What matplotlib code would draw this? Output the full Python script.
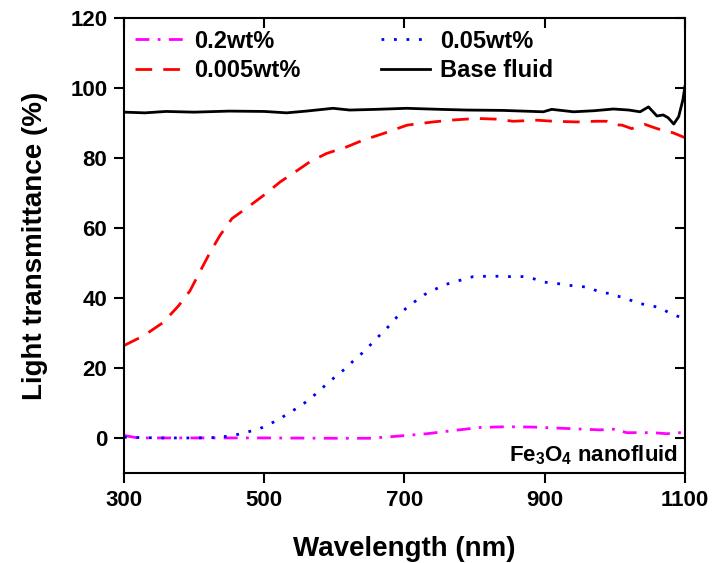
import matplotlib
matplotlib.use("Agg")
import matplotlib.pyplot as plt

plt.rcParams['font.family'] = ['Liberation Sans', 'DejaVu Sans']
plt.rcParams['font.weight'] = 'bold'
plt.rcParams['mathtext.fontset'] = 'custom'
plt.rcParams['mathtext.rm'] = 'Liberation Sans:bold'
plt.rcParams['mathtext.bf'] = 'Liberation Sans:bold'
plt.rcParams['mathtext.default'] = 'bf'

# 0.2 wt% Fe3O4
wl_02 = [300, 320, 400, 500, 600, 650, 684, 732, 765, 808, 846, 884, 931, 979, 998, 1017, 1055, 1074, 1093, 1100]
tr_02 = [0.7, 0.0, 0.0, 0.0, -0.1, -0.1, 0.4, 1.2, 2.0, 3.0, 3.2, 3.1, 2.7, 2.3, 2.5, 1.5, 1.5, 1.2, 1.5, 1.3]

# 0.05 wt%
wl_005 = [300, 350, 400, 427, 444, 462, 476, 492, 507, 522, 534, 550, 563, 576, 589, 602, 615, 627, 640,
          652, 664, 677, 689, 702, 715, 728, 742, 756, 782, 798, 817, 834, 851, 869, 884, 900, 916, 931,
          948, 962, 979, 996, 1000, 1017, 1031, 1048, 1064, 1079, 1093, 1100]
tr_005 = [0.2, 0.0, 0.0, 0.1, 0.4, 1.0, 1.7, 2.5, 3.9, 5.4, 7.0, 8.9, 10.8, 13.0, 15.4, 17.6, 19.7, 22.0, 24.3,
          26.7, 29.2, 31.8, 34.5, 37.0, 39.0, 40.9, 42.3, 43.7, 45.2, 46.1, 46.2, 46.2, 46.1, 46.1, 45.5, 44.5,
          44.2, 43.7, 43.3, 43.1, 41.6, 41.2, 40.7, 39.9, 38.5, 38.0, 37.2, 35.6, 34.5, 34.0]

# 0.005 wt%
wl_0005 = [300, 328, 356, 378, 394, 408, 423, 437, 454, 477, 499, 523, 544, 565, 589, 618, 641, 670, 704,
           741, 765, 803, 831, 855, 889, 912, 946, 974, 988, 998, 1010, 1024, 1043, 1060, 1083, 1100]
tr_0005 = [26.4, 29.2, 33.0, 37.8, 42.0, 47.4, 53.1, 57.9, 62.7, 66.0, 69.3, 73.2, 76.0, 78.9, 81.3, 83.2, 85.1,
           87.0, 89.4, 90.3, 90.8, 91.3, 91.1, 90.5, 90.8, 90.5, 90.3, 90.5, 90.5, 89.5, 89.4, 88.4, 89.6, 88.4,
           87.2, 85.8]

# Base fluid
wl_base = [300, 330, 360, 400, 450, 500, 532, 560, 598, 622, 660, 703, 750, 789, 840, 898, 910, 941, 970,
           998, 1020, 1036, 1048, 1060, 1069, 1076, 1084, 1091, 1097, 1100]
tr_base = [93.1, 92.9, 93.3, 93.1, 93.4, 93.3, 92.9, 93.4, 94.2, 93.7, 93.9, 94.2, 93.9, 93.7, 93.6, 93.2, 93.9,
           93.2, 93.5, 94.0, 93.7, 93.2, 94.6, 92.0, 92.3, 91.5, 89.7, 91.8, 96.6, 100.5]

fig = plt.figure(figsize=(7.15, 5.63), dpi=100)
ax = fig.add_axes([0.1734, 0.160, 0.7846, 0.808])

l1, = ax.plot(wl_02, tr_02, color='magenta', lw=2, dashes=(5, 3, 1, 3), label='0.2wt%')
l2, = ax.plot(wl_005, tr_005, color='blue', lw=2, dashes=(1, 3.5), label='0.05wt%')
l3, = ax.plot(wl_0005, tr_0005, color='red', lw=2, dashes=(6, 4), label='0.005wt%')
l4, = ax.plot(wl_base, tr_base, color='black', lw=2, label='Base fluid')

ax.set_xlim(300, 1100)
ax.set_ylim(-10, 120)
ax.set_xticks([300, 500, 700, 900, 1100])
ax.set_yticks([0, 20, 40, 60, 80, 100, 120])

for s in ax.spines.values():
    s.set_linewidth(1.5)
ax.tick_params(axis='both', which='major', direction='out', length=7, width=1.5,
               labelsize=16, pad=5)
ax.tick_params(top=True, right=True)
# inward ticks on top and right
for t in ax.xaxis.get_major_ticks():
    t.tick2line.set_marker(3)
for t in ax.yaxis.get_major_ticks():
    t.tick2line.set_marker(0)

ax.set_xlabel('Wavelength (nm)', fontsize=20, fontweight='bold', labelpad=18)
ax.set_ylabel('Light transmittance (%)', fontsize=20, fontweight='bold', labelpad=16)

# column-major order so rows read 0.2 / 0.05 and 0.005 / Base fluid
ax.legend([l1, l3, l2, l4], ['0.2wt%', '0.005wt%', '0.05wt%', 'Base fluid'],
          loc='upper left', bbox_to_anchor=(0.003, 0.995), borderaxespad=0, ncol=2,
          frameon=False, handlelength=2.1, columnspacing=3.4, handletextpad=0.4,
          labelspacing=0.27, prop={'weight': 'bold', 'size': 17})

ax.text(0.9875, 0.025, r'Fe$_3$O$_4$ nanofluid', transform=ax.transAxes,
        ha='right', va='baseline', fontsize=16, fontweight='bold')

fig.savefig('out.png', dpi=100)
